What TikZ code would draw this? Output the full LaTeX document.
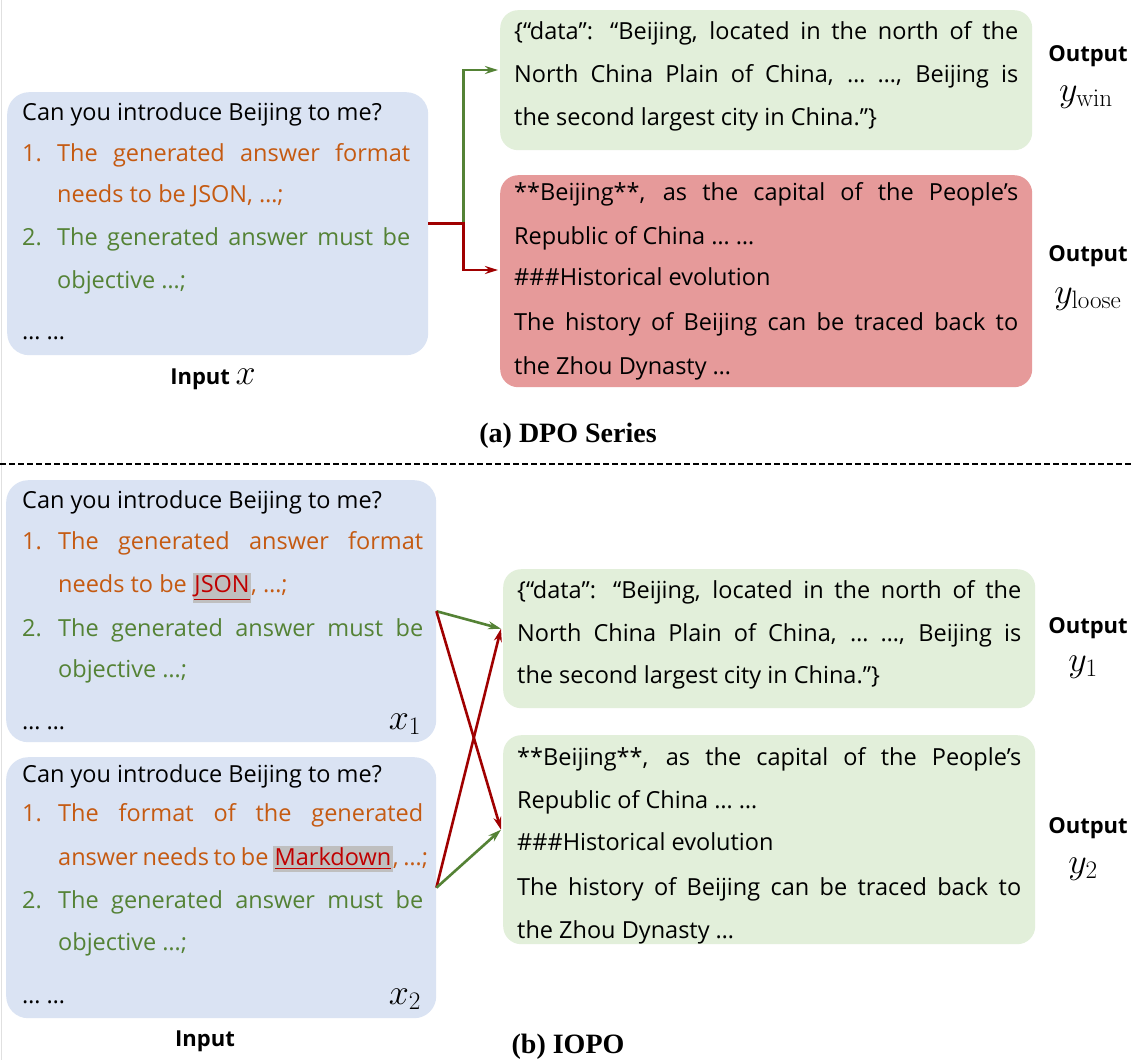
\RequirePackage{fix-cm}
\documentclass[tikz,border=0pt]{standalone}
\usepackage{amsmath}
\usepackage[no-math]{fontspec}
\setmainfont{Open Sans}
\newfontfamily\capserif{Liberation Serif}
\usetikzlibrary{arrows.meta,calc}
\definecolor{bluefill}{HTML}{DAE3F3}
\definecolor{greenfill}{HTML}{E2EFDA}
\definecolor{redfill}{HTML}{E69A9A}
\definecolor{orangetxt}{HTML}{C55A11}
\definecolor{greentxt}{HTML}{548235}
\definecolor{arrred}{HTML}{A00000}
\definecolor{arrgreen}{HTML}{548235}
\definecolor{hlgray}{HTML}{BFBFBF}
\definecolor{hlred}{HTML}{C00000}
\newcommand{\bodyfont}{\fontsize{23.5}{27}\selectfont}
\newcommand{\lblfont}{\fontsize{22}{26}\selectfont\bfseries}
\newcommand{\mathsz}{\fontsize{36}{40}\selectfont}
\newcommand{\capsz}{\fontsize{28}{32}\selectfont\capserif\bfseries}
\newcommand{\hlword}[1]{{\setlength{\fboxsep}{1.5pt}\colorbox{hlgray}{\color{hlred}\underline{#1}}}}
\newcommand{\js}[2]{\makebox[#1][s]{#2}}
\begin{document}
\begin{tikzpicture}[x=1pt,y=-1pt,
  bluebox/.style={fill=bluefill, rounded corners=22pt, inner sep=0pt, anchor=north west},
  greenbox/.style={fill=greenfill, rounded corners=18pt, inner sep=0pt, anchor=north west},
  redbox/.style={fill=redfill, rounded corners=18pt, inner sep=0pt, anchor=north west},
  txt/.style={anchor=base west, inner sep=0pt, font=\bodyfont, text=black},
  otxt/.style={txt, text=orangetxt},
  gtxt/.style={txt, text=greentxt},
  lbl/.style={anchor=base, inner sep=0pt, font=\lblfont},
  mlbl/.style={anchor=base, inner sep=0pt, font=\mathsz},
  captxt/.style={anchor=base, inner sep=0pt, font=\capsz},
  garrow/.style={draw=arrgreen, line width=2.6pt, -{Stealth[length=13pt,width=8pt]}},
  rarrow/.style={draw=arrred, line width=2.6pt, -{Stealth[length=13pt,width=8pt]}}
]
\useasboundingbox (0,0) rectangle (1134,1060);
\fill[white] (0,0) rectangle (1134,1060);
\draw[black!12, line width=1pt] (1,0) -- (1,1060);

% ---------------- (a) DPO Series ----------------
\node[bluebox, minimum width=421pt, minimum height=263pt] (inA) at (7,92) {};
\node[txt] (a1) at (22,120) {Can you introduce Beijing to me?};
\node[otxt] (a2n) at (22,161) {1.};
\node[otxt] (a2) at (57,161) {\js{353pt}{The generated answer format}};
\node[otxt] (a3) at (57,202) {needs to be JSON, …;};
\node[gtxt] (a4n) at (22,245) {2.};
\node[gtxt] (a4) at (57,245) {\js{353pt}{The generated answer must be}};
\node[gtxt] (a5) at (57,288) {objective …;};
\node[txt] (a6) at (22,339) {… …};
\node[lbl] (inAl) at (213,384) {Input {\mathsz$x$}};

\node[greenbox, minimum width=532pt, minimum height=140pt] (winA) at (500,10) {};
\node[txt] (w1) at (514,39) {\js{504pt}{\{“data”: “Beijing, located in the north of the}};
\node[txt] (w2) at (514,82) {\js{504pt}{North China Plain of China, … …, Beijing is}};
\node[txt] (w3) at (514,125) {the second largest city in China."\}};

\node[redbox, minimum width=532pt, minimum height=212pt] (loseA) at (500,175) {};
\node[txt] (r1) at (514,200) {\js{504pt}{**Beijing**, as the capital of the People's}};
\node[txt] (r2) at (514,244) {Republic of China … …};
\node[txt] (r3) at (514,285) {\#\#\#Historical evolution};
\node[txt] (r4) at (514,330) {\js{504pt}{The history of Beijing can be traced back to}};
\node[txt] (r5) at (514,374) {the Zhou Dynasty …};

\node[lbl] (oWin) at (1088,61) {Output};
\node[mlbl] (yWin) at (1086,101) {$y_{\mathrm{win}}$};
\node[lbl] (oLose) at (1088,261) {Output};
\node[mlbl] (yLose) at (1088,303) {$y_{\mathrm{loose}}$};

\coordinate (junc) at ($(inA.east)+(35,0)$);
\coordinate (winTgt) at (498,70);
\coordinate (loseTgt) at (498,270);
\draw[garrow] (junc) |- (winTgt);
\draw[rarrow] (inA.east) -- (junc) |- (loseTgt);

\node[captxt] (capA) at (568,442) {(a) DPO Series};

\draw[black, line width=1.3pt, dash pattern=on 6pt off 3pt] (0,464) -- (1134,464);

% ---------------- (b) IOPO ----------------
\node[bluebox, minimum width=430pt, minimum height=262pt] (x1) at (6,480) {};
\node[txt] (b1) at (22,508) {Can you introduce Beijing to me?};
\node[otxt] (b2n) at (22,549) {1.};
\node[otxt] (b2) at (58,549) {\js{365pt}{The generated answer format}};
\node[otxt] (b3) at (58,592) {needs to be \hlword{JSON}, …;};
\node[gtxt] (b4n) at (22,636) {2.};
\node[gtxt] (b4) at (58,636) {\js{365pt}{The generated answer must be}};
\node[gtxt] (b5) at (58,677) {objective …;};
\node[txt] (b6) at (22,729) {… …};
\node[mlbl] (x1l) at (405,729) {$x_1$};

\node[bluebox, minimum width=430pt, minimum height=261pt] (x2) at (6,757) {};
\node[txt] (c1) at (22,782) {Can you introduce Beijing to me?};
\node[otxt] (c2n) at (22,821) {1.};
\node[otxt] (c2) at (58,821) {\js{365pt}{The format of the generated}};
\node[otxt] (c3) at (58,865) {\js{370pt}{answer needs to be \hlword{Markdown}, …;}};
\node[gtxt] (c4n) at (22,908) {2.};
\node[gtxt] (c4) at (58,908) {\js{365pt}{The generated answer must be}};
\node[gtxt] (c5) at (58,950) {objective …;};
\node[txt] (c6) at (22,1003) {… …};
\node[mlbl] (x2l) at (405,1004) {$x_2$};
\node[lbl] (inBl) at (205,1046) {Input};

\node[greenbox, minimum width=532pt, minimum height=139pt] (y1) at (503,569) {};
\node[txt] (d1) at (517,598) {\js{504pt}{\{“data”: “Beijing, located in the north of the}};
\node[txt] (d2) at (517,641) {\js{504pt}{North China Plain of China, … …, Beijing is}};
\node[txt] (d3) at (517,683) {the second largest city in China."\}};

\node[greenbox, minimum width=532pt, minimum height=209pt] (y2) at (503,735) {};
\node[txt] (e1) at (517,765) {\js{504pt}{**Beijing**, as the capital of the People's}};
\node[txt] (e2) at (517,808) {Republic of China … …};
\node[txt] (e3) at (517,850) {\#\#\#Historical evolution};
\node[txt] (e4) at (517,895) {\js{504pt}{The history of Beijing can be traced back to}};
\node[txt] (e5) at (517,938) {the Zhou Dynasty …};

\node[lbl] (o1) at (1088,633) {Output};
\node[mlbl] (y1l) at (1083,671) {$y_1$};
\node[lbl] (o2) at (1088,833) {Output};
\node[mlbl] (y2l) at (1083,873) {$y_2$};

\coordinate (y1Tgt) at ($(y1.west)+(-2,-10)$);
\coordinate (y2Tgt) at ($(y2.west)+(-2,-10)$);
\draw[garrow] (x1.east) -- (y1Tgt);
\draw[rarrow] (x1.east) -- (y2Tgt);
\draw[rarrow] (x2.east) -- (y1Tgt);
\draw[garrow] (x2.east) -- (y2Tgt);

\node[captxt] (capB) at (568,1053) {(b) IOPO};
\end{tikzpicture}
\end{document}
